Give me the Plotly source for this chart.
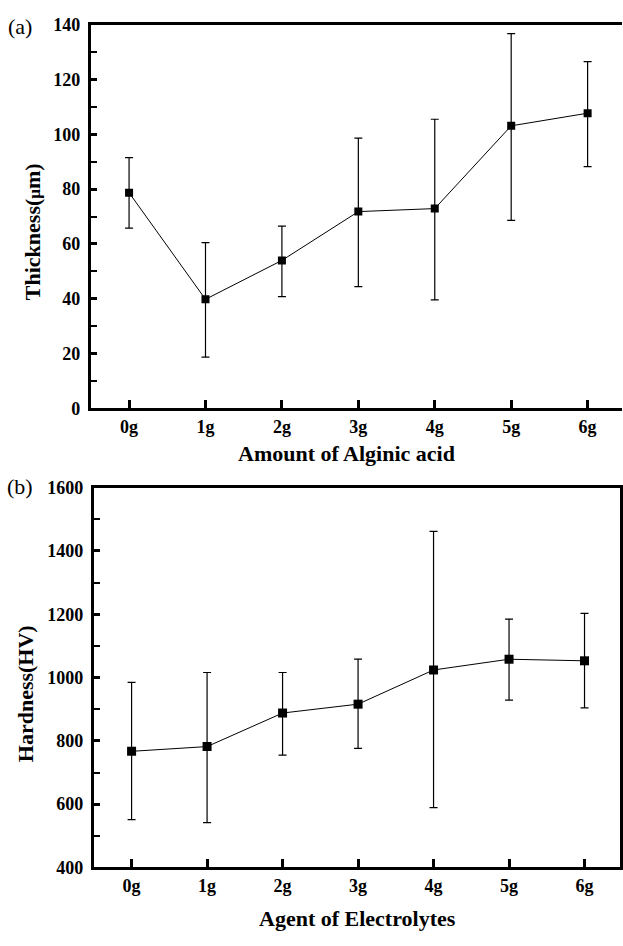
import plotly.graph_objects as go

W, H = 623, 946

categories = ["0g", "1g", "2g", "3g", "4g", "5g", "6g"]

thickness = [78.7, 39.8, 54.0, 71.8, 72.9, 103.1, 107.7]
thickness_err_plus = [12.8, 20.7, 12.5, 26.8, 32.6, 33.6, 18.8]
thickness_err_minus = [12.9, 21.1, 13.2, 27.4, 33.3, 34.5, 19.5]

hardness = [767, 782, 888, 916, 1024, 1058, 1053]
hardness_err_plus = [218, 234, 128, 142, 438, 127, 150]
hardness_err_minus = [216, 240, 133, 140, 435, 129, 149]

y_ticks_a = [0, 20, 40, 60, 80, 100, 120, 140]
y_ticks_b = [400, 600, 800, 1000, 1200, 1400, 1600]

FONT = "Liberation Serif"


def bold(items):
    return ["<b>%s</b>" % s for s in items]


fig = go.Figure()

fig.add_trace(go.Scatter(
    x=categories, y=thickness, mode="lines+markers",
    line=dict(color="black", width=1),
    marker=dict(symbol="square", size=8, color="black"),
    error_y=dict(type="data", symmetric=False, array=thickness_err_plus,
                 arrayminus=thickness_err_minus, color="black", thickness=1.2, width=4),
    xaxis="x", yaxis="y", showlegend=False,
))

fig.add_trace(go.Scatter(
    x=categories, y=hardness, mode="lines+markers",
    line=dict(color="black", width=1),
    marker=dict(symbol="square", size=9, color="black"),
    error_y=dict(type="data", symmetric=False, array=hardness_err_plus,
                 arrayminus=hardness_err_minus, color="black", thickness=1.2, width=4),
    xaxis="x2", yaxis="y2", showlegend=False,
))

tickfont = dict(family=FONT, size=18, color="black")

common_x = dict(
    type="category", showgrid=False, zeroline=False,
    showline=True, linecolor="black", linewidth=3,
    ticks="inside", ticklen=8, tickwidth=2.5, tickcolor="black",
    tickfont=tickfont, ticklabelstandoff=0,
    tickvals=categories, ticktext=bold(categories),
)
common_y = dict(
    showgrid=False, zeroline=False,
    showline=True, linecolor="black", linewidth=3,
    ticks="inside", ticklen=6, tickwidth=2.5, tickcolor="black",
    tickfont=tickfont, ticklabelstandoff=4,
)

fig.update_layout(
    width=W, height=H,
    margin=dict(l=0, r=0, t=0, b=0),
    paper_bgcolor="white", plot_bgcolor="white",
    font=dict(family=FONT, color="black"),
    xaxis=dict(common_x, domain=[91 / W, 1.0], range=[-0.5, 6.45], anchor="y", mirror=True),
    yaxis=dict(common_y, domain=[1 - 407 / H, 1 - 15 / H], range=[0, 140],
               tickvals=y_ticks_a, ticktext=bold(y_ticks_a), anchor="x", mirror=False,
               minor=dict(ticks="inside", ticklen=6, tickwidth=2, tickcolor="black", dtick=10)),
    xaxis2=dict(common_x, domain=[94 / W, 621 / W], range=[-0.5, 6.47], anchor="y2", mirror=True),
    yaxis2=dict(common_y, domain=[1 - 876 / H, 1 - 488 / H], range=[400, 1600],
                tickvals=y_ticks_b, ticktext=bold(y_ticks_b), anchor="x2", mirror=True,
                minor=dict(ticks="inside", ticklen=6, tickwidth=2, tickcolor="black", dtick=100)),
)

title_font = dict(family=FONT, size=22, color="black")

annotations = [
    dict(text="<b>Amount of Alginic acid</b>", x=347 / W, y=1 - 453 / H, font=title_font),
    dict(text="<b>Agent of Electrolytes</b>", x=358 / W, y=1 - 928 / H, font=title_font),
    dict(text="<b>Thickness(<span style='font-size:17px'>μ</span>m)</b>", x=32 / W, y=1 - 226 / H,
         textangle=-90, font=title_font),
    dict(text="<b>Hardness(HV)</b>", x=25 / W, y=1 - 698 / H, textangle=-90, font=title_font),
    dict(text="(a)", x=20 / W, y=1 - 17 / H, font=dict(family=FONT, size=22, color="black")),
    dict(text="(b)", x=20 / W, y=1 - 487 / H, font=dict(family=FONT, size=22, color="black")),
]
for a in annotations:
    a.update(xref="paper", yref="paper", showarrow=False, xanchor="center", yanchor="middle")
fig.update_layout(annotations=annotations)

fig.write_html("out.html")
